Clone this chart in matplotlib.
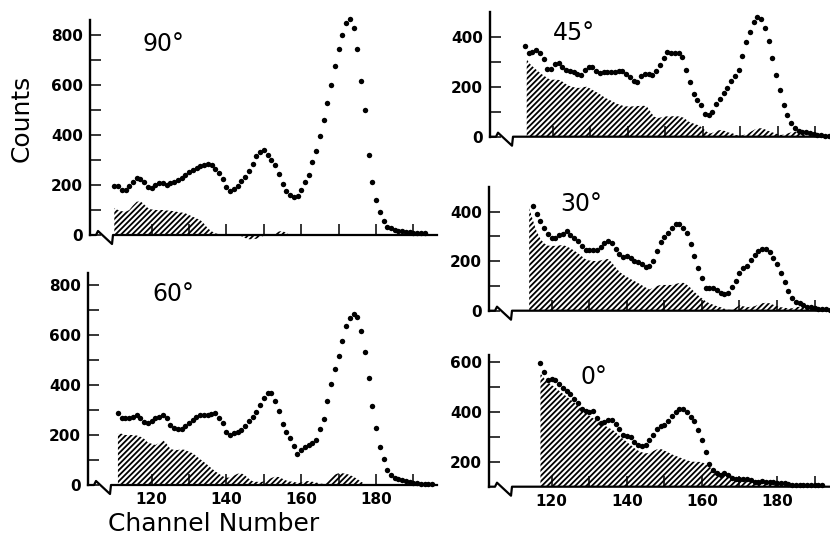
import matplotlib.pyplot as plt
import numpy as np

plt.rcParams['hatch.linewidth'] = 1.3
plt.rcParams['font.family'] = ['DejaVu Sans']

# ---- data (counts per channel) ----
ch90 = np.arange(110, 194)
dots90 = [197, 196, 181, 180, 195, 212, 227, 224, 213, 192,
          187, 200, 208, 209, 200, 207, 213, 220, 227, 240,
          251, 258, 268, 277, 281, 283, 279, 265, 248, 222,
          192, 176, 184, 197, 214, 230, 255, 285, 315, 333,
          340, 318, 300, 278, 245, 205, 176, 158, 152, 155,
          180, 210, 240, 293, 335, 395, 460, 530, 600, 676,
          745, 800, 850, 865, 830, 745, 615, 500, 320, 210,
          140, 92, 55, 33, 27, 21, 17, 14, 12, 10,
          9, 9, 8, 7]
hch90 = np.arange(110, 158)
hist90 = [107, 100, 95, 93, 100, 118, 133, 135, 122, 108,
          102, 100, 100, 100, 98, 97, 95, 92, 90, 87,
          80, 73, 66, 60, 45, 27, 15, 7, 3, 0,
          0, 0, 0, 0, -5, -12, -17, -17, -15, -10,
          -3, 0, 0, 5, 14, 16, 8, 0]

ch60 = np.arange(111, 196)
dots60 = [289, 270, 267, 267, 273, 280, 267, 253, 247, 256,
          267, 273, 280, 269, 240, 227, 224, 224, 236, 249,
          260, 273, 280, 280, 280, 283, 289, 269, 247, 213,
          200, 209, 213, 220, 236, 257, 273, 293, 320, 347,
          367, 367, 337, 297, 244, 213, 187, 156, 124, 140,
          151, 160, 169, 180, 223, 264, 337, 403, 463, 517,
          577, 636, 667, 683, 673, 616, 533, 429, 317, 229,
          151, 103, 60, 40, 29, 23, 20, 16, 11, 9,
          7, 4, 4, 3, 3]
hch60 = np.arange(111, 179)
hist60 = [207, 205, 200, 200, 200, 198, 193, 185, 170, 165,
          160, 168, 180, 165, 145, 140, 140, 143, 140, 133,
          127, 115, 103, 92, 80, 67, 55, 45, 35, 29,
          30, 38, 45, 47, 38, 25, 15, 13, 12, 14,
          20, 28, 33, 32, 25, 18, 14, 13, 8, 10,
          15, 16, 13, 10, 6, 4, 12, 30, 42, 47,
          47, 45, 40, 33, 24, 13, 4, 0]

ch45 = np.arange(112.5, 194.5)
dots45 = [362, 335, 340, 346, 333, 309, 272, 272, 289, 295,
          279, 266, 262, 258, 252, 248, 268, 279, 279, 262,
          255, 258, 258, 260, 260, 263, 262, 252, 238, 224,
          217, 242, 252, 252, 246, 264, 286, 313, 338, 335,
          335, 335, 319, 268, 219, 170, 148, 127, 91, 87,
          100, 131, 152, 174, 195, 221, 244, 268, 322, 378,
          419, 460, 480, 472, 436, 382, 315, 248, 185, 127,
          87, 54, 36, 24, 20, 17, 16, 9, 7, 7,
          4, 4]
hch45 = np.arange(113, 190)
hist45 = [309, 289, 275, 262, 250, 240, 230, 228, 228, 226,
          215, 205, 200, 196, 195, 198, 200, 192, 183, 175,
          165, 155, 148, 140, 132, 127, 122, 121, 121, 122,
          123, 124, 122, 100, 80, 74, 78, 82, 80, 82,
          82, 80, 75, 62, 55, 50, 45, 33, 20, 13,
          18, 25, 27, 22, 16, 13, 6, 3, 8, 13,
          22, 30, 34, 33, 26, 20, 15, 10, 7, 10,
          15, 19, 20, 14, 8, 4, 0]

ch30 = np.arange(115, 195)
dots30 = [424, 391, 362, 333, 312, 292, 292, 306, 312, 322,
          306, 292, 283, 261, 245, 245, 245, 245, 259, 275,
          283, 275, 248, 229, 218, 221, 211, 201, 198, 187,
          178, 180, 201, 242, 279, 296, 315, 335, 349, 349,
          335, 315, 269, 221, 171, 131, 90, 90, 93, 84,
          73, 67, 70, 97, 121, 151, 174, 180, 205, 225,
          242, 249, 249, 236, 211, 189, 151, 117, 79, 50,
          34, 30, 23, 16, 16, 12, 7, 7, 5, 3]
hch30 = np.arange(114, 195)
hist30 = [414, 365, 320, 290, 272, 263, 262, 262, 264, 265,
          260, 252, 243, 232, 220, 208, 203, 201, 201, 203,
          207, 209, 195, 175, 158, 146, 137, 128, 120, 112,
          103, 94, 86, 92, 100, 104, 104, 104, 104, 108,
          112, 113, 105, 92, 76, 62, 50, 38, 30, 24,
          18, 14, 8, 4, 3, 12, 22, 18, 14, 16,
          18, 24, 30, 32, 30, 24, 18, 14, 12, 9,
          10, 14, 16, 14, 10, 8, 9, 6, 4, 3,
          3]

ch0 = np.arange(117, 193)
dots0 = [597, 560, 527, 531, 529, 513, 497, 483, 471, 453,
         436, 413, 403, 400, 404, 377, 357, 360, 367, 367,
         353, 331, 307, 303, 300, 280, 267, 264, 267, 287,
         307, 333, 343, 347, 363, 383, 400, 411, 411, 400,
         380, 364, 329, 287, 240, 193, 167, 156, 149, 157,
         147, 133, 129, 129, 129, 129, 127, 120, 120, 123,
         120, 120, 120, 116, 116, 113, 109, 107, 107, 107,
         107, 107, 107, 107, 107, 107]
hch0 = np.arange(117, 195)
hist0 = [555, 535, 520, 508, 498, 485, 473, 462, 450, 438,
         426, 412, 398, 385, 375, 365, 355, 347, 338, 330,
         320, 305, 292, 280, 268, 255, 245, 238, 234, 236,
         243, 250, 252, 245, 238, 230, 224, 218, 212, 206,
         202, 200, 200, 199, 190, 180, 170, 160, 155, 153,
         152, 145, 135, 127, 125, 124, 122, 120, 118, 118,
         118, 118, 117, 117, 115, 113, 111, 108, 106, 105,
         104, 104, 103, 103, 103, 102, 102, 102]

W, H = 830, 539
fig = plt.figure(figsize=(8.3, 5.39), dpi=100)


def panel(left, right, base_px, top_px, xlim, ylim, ch, dots, hch, hist,
          yticks, ylabels, xlabels, title, title_xy):
    ax = fig.add_axes([left / W, 1 - base_px / H, (right - left) / W,
                       (base_px - top_px) / H])
    ax.set_xlim(*xlim)
    ax.set_ylim(*ylim)
    base = ylim[0]
    ax.fill_between(hch, base, hist, facecolor='none', edgecolor='black',
                    hatch='//////', linewidth=0, clip_on=False)
    ax.plot(ch, dots, 'o', ms=3.9, color='black', mew=0, clip_on=False)

    # baseline with axis break
    cx = (xlim[1] - xlim[0]) / (right - left)
    cy = (ylim[1] - ylim[0]) / (base_px - top_px)
    x0 = xlim[0]
    xs = [x0, x0 + 6 * cx, x0 + 8 * cx, x0 + 22 * cx, x0 + 23 * cx, xlim[1]]
    ys = [base, base, base + 4 * cy, base - 9 * cy, base, base]
    ax.plot(xs, ys, color='black', lw=1.6, clip_on=False)

    for s in ['top', 'right', 'bottom']:
        ax.spines[s].set_visible(False)
    ax.spines['left'].set_linewidth(1.7)

    ax.set_xticks(range(120, 191, 10))
    ax.set_xticklabels(xlabels)
    ax.set_yticks(yticks)
    ax.set_yticklabels(ylabels)
    ax.tick_params(direction='in', length=8, width=1.1, labelsize=11,
                   pad=5)
    for lab in ax.get_xticklabels() + ax.get_yticklabels():
        lab.set_fontweight('bold')
    fig.text(title_xy[0] / W, 1 - title_xy[1] / H, title, ha='center',
             va='center', fontsize=17)
    return ax


blank_x = [''] * 8
lab_x = ['120', '', '140', '', '160', '', '180', '']
y800 = list(range(0, 801, 100))
y800l = [str(v) if v % 200 == 0 else '' for v in y800]
y400 = list(range(0, 401, 100))
y400l = [str(v) if v % 200 == 0 else '' for v in y400]
y600 = list(range(200, 601, 100))
y600l = [str(v) if v % 200 == 0 else '' for v in y600]

panel(90, 437, 235, 20, (103.5, 196.3), (0, 860), ch90, dots90, hch90, hist90,
      y800, y800l, blank_x, '90°', (163, 44))
panel(88, 437, 485, 272.5, (103.0, 196.3), (0, 850), ch60, dots60, hch60,
      hist60, y800, y800l, lab_x, '60°', (173, 294))
panel(490, 830, 136.7, 11.7, (103.2, 193.9), (0, 500), ch45, dots45, hch45,
      hist45, y400, y400l, blank_x, '45°', (574, 33))
panel(489, 830, 310.7, 187, (103.3, 194.1), (0, 500), ch30, dots30, hch30,
      hist30, y400, y400l, blank_x, '30°', (581, 204))
panel(489, 830, 486.7, 354.8, (103.3, 194.1), (100, 630), ch0, dots0, hch0,
      hist0, y600, y600l, lab_x, '0°', (594, 377))

fig.text(22 / W, 1 - 118 / H, 'Counts', rotation=90, ha='center',
         va='center', fontsize=18)
fig.text(214 / W, 1 - 524 / H, 'Channel Number', ha='center', va='center',
         fontsize=18)

fig.savefig('out.png', dpi=100)
